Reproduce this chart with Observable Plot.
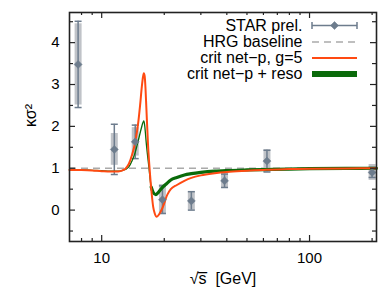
<!DOCTYPE html>
<html><head><meta charset="utf-8">
<script src="https://cdn.jsdelivr.net/npm/d3@7"></script>
<script src="https://cdn.jsdelivr.net/npm/@observablehq/plot@0.6"></script>
<style>body{margin:0;background:#fff}</style>
</head><body><div id="chart"></div>
<script>
// STAR preliminary data
const starX = [7.7, 11.5, 14.5, 19.6, 27, 39, 62.4, 200];
const starY = [3.48, 1.45, 1.63, 0.25, 0.22, 0.70, 1.17, 0.90];
const statErr = [1.03, 0.60, 0.40, 0.33, 0.22, 0.16, 0.26, 0.12];
const sysErr = [0.97, 0.38, 0.34, 0.36, 0.22, 0.17, 0.27, 0.19];

// crit net-p, g=5
const orangeX = [7, 8, 9, 10, 11, 12, 12.6, 13.0, 13.5, 14.0, 14.5, 15.0, 15.3, 15.6, 15.8, 15.95, 16.1, 16.25, 16.4, 16.7, 17.0, 17.4, 17.7, 18.0, 18.4, 18.9, 19.6, 20.7, 21.5, 23, 25, 27, 30, 35, 40, 50, 62, 80, 100, 150, 210];
const orangeY = [0.96, 0.955, 0.945, 0.93, 0.92, 0.925, 0.95, 0.99, 1.1, 1.32, 1.63, 2.1, 2.5, 2.95, 3.18, 3.27, 3.2, 2.9, 2.45, 1.58, 0.99, 0.39, 0.07, -0.08, -0.16, -0.1, 0.05, 0.37, 0.5, 0.6, 0.7, 0.77, 0.83, 0.88, 0.91, 0.94, 0.965, 0.98, 0.99, 0.995, 1.0];

// crit net-p + reso
const greenX = [7, 8, 9, 10, 11, 12, 12.6, 13.0, 13.5, 14.0, 14.5, 15.0, 15.5, 15.95, 16.1, 16.4, 16.9, 17.3, 17.7, 18.2, 18.7, 19.5, 20.5, 21.5, 23, 25, 27, 30, 35, 40, 50, 62, 80, 100, 150, 210];
const greenY = [0.965, 0.96, 0.95, 0.94, 0.93, 0.93, 0.95, 0.97, 1.03, 1.18, 1.38, 1.66, 1.95, 2.13, 2.02, 1.58, 0.99, 0.55, 0.42, 0.37, 0.42, 0.53, 0.63, 0.72, 0.78, 0.84, 0.87, 0.9, 0.93, 0.945, 0.96, 0.97, 0.98, 0.99, 0.995, 1.0];

const hrgBaseline = [1];
const xMajor = [10, 100];
const xMinor = [8, 9, 20, 30, 40, 50, 60, 70, 80, 90, 200];
const yMajor = [0, 1, 2, 3, 4];
const yMinor = [-0.5, 0.5, 1.5, 2.5, 3.5, 4.5];
const legendLabels = ["STAR prel.", "HRG baseline", "crit net\u2212p, g=5", "crit net\u2212p + reso"];

const W = 390, H = 295, mL = 69, mR = 14, mT = 12, mB = 54;
const plotW = W - mL - mR, plotH = H - mT - mB;

const slate = "#6d7c8d", sysCol = "#b9bdc2", orangeCol = "#ff4a12", greenCol = "#0a6a0a", dashCol = "#aaaaaa";
const font = "Liberation Sans, Arial, Helvetica, sans-serif";

const star = starX.map((x, i) => ({x, y: starY[i], stat: statErr[i], sys: sysErr[i]}));
const orange = orangeX.map((x, i) => ({x, y: orangeY[i]}));
const green = greenX.map((x, i) => ({x, y: greenY[i]}));

const hline = w => ({draw(ctx) { ctx.moveTo(-w / 2, 0); ctx.lineTo(w / 2, 0); }});
const capLine = w => ({draw(ctx) {
  ctx.moveTo(-w / 2, 0); ctx.lineTo(w / 2, 0);
  ctx.moveTo(-w / 2, -3.5); ctx.lineTo(-w / 2, 3.5);
  ctx.moveTo(w / 2, -3.5); ctx.lineTo(w / 2, 3.5);
}});

const legendDy = [13, 29.5, 45.5, 61.5];
const legendTextDx = -74, legendSampleDx = -42;

const chart = Plot.plot({
  width: W, height: H,
  marginLeft: mL, marginRight: mR, marginTop: mT, marginBottom: mB,
  style: {fontFamily: font, fontSize: "15px", color: "#000", background: "#fff"},
  x: {type: "log", domain: [7, 210], ticks: xMajor, tickFormat: d => String(d), tickSize: 0, tickPadding: 11, label: null},
  y: {domain: [-0.75, 4.72], ticks: yMajor, tickFormat: d => String(d), tickSize: 0, tickPadding: 10, label: null},
  marks: [
    // HRG baseline
    Plot.ruleY(hrgBaseline, {y: d => d, stroke: dashCol, strokeWidth: 1.5, strokeDasharray: "7,5"}),
    // systematic boxes
    Plot.ruleX(star, {x: "x", y1: d => d.y - d.sys, y2: d => d.y + d.sys, stroke: sysCol, strokeWidth: 7, strokeOpacity: 0.9}),
    // stat error bars
    Plot.ruleX(star, {x: "x", y1: d => d.y - d.stat, y2: d => d.y + d.stat, stroke: slate, strokeWidth: 1.5}),
    Plot.dot(star, {x: "x", y: d => d.y + d.stat, symbol: hline(7), fill: "none", stroke: slate, strokeWidth: 1.5}),
    Plot.dot(star, {x: "x", y: d => d.y - d.stat, symbol: hline(7), fill: "none", stroke: slate, strokeWidth: 1.5}),
    // curves
    Plot.line(green, {x: "x", y: "y", stroke: greenCol, strokeWidth: 1.3, curve: "monotone-x"}),
    Plot.line(green.filter(d => d.x >= 17.2), {x: "x", y: "y", stroke: greenCol, strokeWidth: 3.2, curve: "monotone-x"}),
    Plot.line(orange, {x: "x", y: "y", stroke: orangeCol, strokeWidth: 2, curve: "monotone-x"}),
    // markers
    Plot.dot(star, {x: "x", y: "y", symbol: "diamond2", r: 3.6, fill: slate, stroke: slate, strokeWidth: 0.5}),
    // inward ticks, all four sides
    Plot.ruleX(xMajor, {x: d => d, insetTop: plotH - 6, stroke: "#222", strokeWidth: 1.2}),
    Plot.ruleX(xMajor, {x: d => d, insetBottom: plotH - 6, stroke: "#222", strokeWidth: 1.2}),
    Plot.ruleX(xMinor, {x: d => d, insetTop: plotH - 3, stroke: "#222", strokeWidth: 1.2}),
    Plot.ruleX(xMinor, {x: d => d, insetBottom: plotH - 3, stroke: "#222", strokeWidth: 1.2}),
    Plot.ruleY(yMajor, {y: d => d, insetRight: plotW - 6, stroke: "#222", strokeWidth: 1.2}),
    Plot.ruleY(yMajor, {y: d => d, insetLeft: plotW - 6, stroke: "#222", strokeWidth: 1.2}),
    Plot.ruleY(yMinor, {y: d => d, insetRight: plotW - 4, stroke: "#222", strokeWidth: 1.2}),
    Plot.ruleY(yMinor, {y: d => d, insetLeft: plotW - 4, stroke: "#222", strokeWidth: 1.2}),
    Plot.frame({stroke: "#222", strokeWidth: 1.6}),
    // legend
    ...legendLabels.map((t, i) => Plot.text([t], {text: d => d, frameAnchor: "top-right", dx: legendTextDx, dy: legendDy[i], textAnchor: "end", lineAnchor: "middle", fontSize: 16, fill: "#000"})),
    Plot.dot([0], {frameAnchor: "top-right", dx: legendSampleDx, dy: legendDy[0], symbol: capLine(45), fill: "none", stroke: slate, strokeWidth: 1.5}),
    Plot.dot([0], {frameAnchor: "top-right", dx: legendSampleDx, dy: legendDy[0], symbol: "diamond2", r: 3.6, fill: slate, stroke: slate, strokeWidth: 0.5}),
    Plot.dot([0], {frameAnchor: "top-right", dx: legendSampleDx, dy: legendDy[1], symbol: hline(45), fill: "none", stroke: dashCol, strokeWidth: 1.5, strokeDasharray: "7,5"}),
    Plot.dot([0], {frameAnchor: "top-right", dx: legendSampleDx, dy: legendDy[2], symbol: hline(45), fill: "none", stroke: orangeCol, strokeWidth: 2}),
    Plot.dot([0], {frameAnchor: "top-right", dx: legendSampleDx, dy: legendDy[3], symbol: hline(45), fill: "none", stroke: greenCol, strokeWidth: 6}),
    // axis titles
    Plot.text(["κσ²"], {text: d => d, frameAnchor: "left", dx: -39, rotate: -90, fontSize: 16, fill: "#000"}),
    Plot.text(["√s\u0305  [GeV]"], {text: d => d, frameAnchor: "bottom", dy: 42, fontSize: 16, fill: "#000"})
  ]
});
document.getElementById("chart").appendChild(chart);
</script>
</body></html>
